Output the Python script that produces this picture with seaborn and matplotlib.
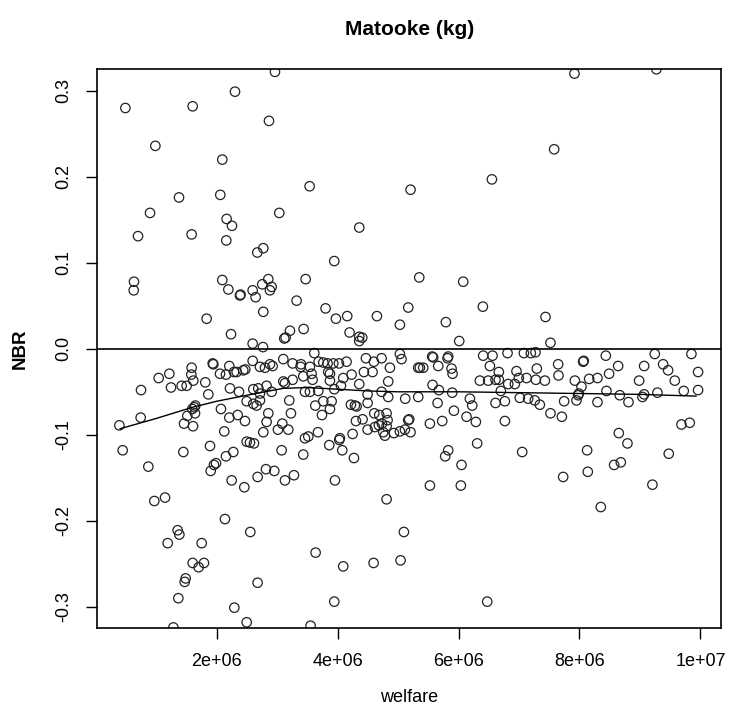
import numpy as np
import pandas as pd
import matplotlib
matplotlib.use("Agg")
import matplotlib.pyplot as plt
from matplotlib.ticker import FixedLocator, FixedFormatter
import seaborn as sns

# ---------------- data (welfare in millions, NBR) ----------------
# points above the zero line
welfare_pos = [2.964, 2.303, 0.490, 1.603, 2.865, 0.986, 2.093, 3.537, 5.206, 1.377,
               2.060, 0.898, 3.035, 2.165, 2.253, 4.358, 0.699, 1.586, 2.159, 2.771,
               2.672, 3.945, 0.633, 0.628, 2.093, 2.854, 3.471, 5.350, 2.193, 2.754,
               2.909, 2.881, 2.385, 2.395, 2.595, 2.644, 3.322, 1.834, 2.771, 3.801,
               3.972, 4.159, 4.650, 5.168, 5.030, 2.237, 3.212, 3.140, 3.118, 3.438,
               4.198, 4.358, 4.407, 4.358, 2.595, 2.766,
               7.917, 9.272, 7.581, 6.551, 6.077, 6.402, 5.790, 7.438, 6.011, 7.520]
nbr_pos = [0.322, 0.299, 0.280, 0.282, 0.265, 0.236, 0.220, 0.189, 0.185, 0.176,
           0.179, 0.158, 0.158, 0.151, 0.143, 0.141, 0.131, 0.133, 0.126, 0.117,
           0.112, 0.102, 0.078, 0.068, 0.080, 0.081, 0.081, 0.083, 0.069, 0.075,
           0.072, 0.068, 0.062, 0.063, 0.068, 0.060, 0.056, 0.035, 0.043, 0.047,
           0.035, 0.038, 0.038, 0.048, 0.028, 0.017, 0.021, 0.013, 0.012, 0.023,
           0.019, 0.014, 0.013, 0.009, 0.006, 0.002,
           0.320, 0.325, 0.232, 0.197, 0.078, 0.049, 0.031, 0.037, 0.009, 0.007]

# points below the zero line, lower welfare
welfare_neg_a = [5.030, 5.057, 3.614, 1.934, 1.945, 2.595, 3.102, 4.468, 4.600, 4.727,
                 1.586, 1.581, 2.209, 2.881, 2.925, 2.799, 2.716, 3.256, 3.394, 3.388,
                 3.542, 3.686, 3.763, 3.834, 3.928, 4.022, 4.148, 4.865, 5.333, 1.217,
                 1.041, 2.055, 2.154, 2.286, 2.330, 2.440, 2.473, 3.432, 3.570, 3.586,
                 3.845, 3.873, 4.231, 4.435, 4.578, 1.614, 1.245, 1.421, 1.504, 1.812,
                 0.749, 1.862, 2.220, 2.369, 2.606, 2.688, 2.826, 2.909, 2.716, 3.102,
                 3.129, 3.256, 3.460, 3.542, 3.873, 4.093, 4.055, 4.358, 3.680, 3.945,
                 4.837, 4.727, 4.496, 4.837, 5.118, 5.333, 2.496, 2.606, 2.661, 2.716]
nbr_neg_a = [-0.006, -0.012, -0.005, -0.017, -0.018, -0.014, -0.012, -0.011, -0.015, -0.011,
             -0.022, -0.030, -0.020, -0.018, -0.020, -0.022, -0.021, -0.017, -0.018, -0.021,
             -0.021, -0.015, -0.016, -0.017, -0.017, -0.017, -0.015, -0.022, -0.022, -0.029,
             -0.034, -0.029, -0.030, -0.027, -0.027, -0.025, -0.024, -0.032, -0.029, -0.036,
             -0.027, -0.029, -0.030, -0.027, -0.027, -0.037, -0.045, -0.043, -0.043, -0.039,
             -0.048, -0.053, -0.046, -0.050, -0.047, -0.046, -0.043, -0.050, -0.052, -0.038,
             -0.040, -0.036, -0.050, -0.050, -0.037, -0.034, -0.043, -0.041, -0.049, -0.047,
             -0.038, -0.050, -0.053, -0.056, -0.058, -0.056, -0.061, -0.064, -0.066, -0.060]

welfare_neg_b = [3.201, 3.631, 3.763, 3.901, 3.873, 3.741, 4.220, 4.286, 4.314, 4.496,
                 1.647, 1.631, 1.597, 1.642, 1.515, 1.460, 1.609, 0.743, 0.391, 2.071,
                 2.209, 2.347, 2.468, 2.854, 2.826, 3.228, 3.085, 3.013, 3.184, 2.771,
                 2.126, 4.606, 4.688, 4.810, 4.683, 4.733, 4.810, 4.826, 4.755, 4.782,
                 4.931, 5.030, 5.113, 5.184, 5.206, 4.303, 4.413, 4.496, 4.617, 5.168,
                 3.675, 3.460, 3.515, 4.038, 4.027, 3.862, 4.248, 2.496, 2.551, 2.617]
nbr_neg_b = [-0.060, -0.066, -0.061, -0.061, -0.070, -0.077, -0.065, -0.066, -0.067, -0.063,
             -0.066, -0.068, -0.070, -0.075, -0.078, -0.087, -0.090, -0.080, -0.089, -0.070,
             -0.080, -0.077, -0.084, -0.075, -0.085, -0.075, -0.087, -0.094, -0.094, -0.097,
             -0.096, -0.075, -0.077, -0.075, -0.089, -0.087, -0.090, -0.083, -0.097, -0.101,
             -0.098, -0.096, -0.094, -0.082, -0.097, -0.084, -0.082, -0.094, -0.091, -0.083,
             -0.097, -0.104, -0.102, -0.104, -0.106, -0.112, -0.099, -0.108, -0.109, -0.110]

welfare_neg_c = [0.446, 1.449, 1.890, 3.074, 3.432, 2.154, 2.275, 4.077, 4.270, 0.870,
                 1.989, 1.956, 1.901, 2.248, 2.457, 2.677, 2.815, 2.953, 3.129, 3.278,
                 3.956, 0.969, 1.146, 4.810, 2.137, 2.556, 5.096, 1.355, 1.383, 1.190,
                 1.752, 1.603, 1.702, 1.790, 3.636, 4.093, 4.595, 5.041, 1.487, 1.471,
                 2.677, 1.366, 2.292, 3.945, 2.496, 1.284, 3.553]
nbr_neg_c = [-0.118, -0.120, -0.113, -0.118, -0.123, -0.125, -0.120, -0.118, -0.127, -0.137,
             -0.133, -0.135, -0.142, -0.153, -0.161, -0.149, -0.140, -0.142, -0.153, -0.147,
             -0.153, -0.177, -0.173, -0.175, -0.198, -0.213, -0.213, -0.211, -0.216, -0.226,
             -0.226, -0.249, -0.254, -0.249, -0.237, -0.253, -0.249, -0.246, -0.267, -0.271,
             -0.272, -0.290, -0.301, -0.294, -0.318, -0.324, -0.322]

# points below the zero line, higher welfare
welfare_neg_d = [5.564, 5.829, 5.581, 5.818, 5.361, 5.416, 5.664, 5.884, 5.901, 6.407,
                 6.562, 6.810, 7.080, 7.195, 7.272, 6.518, 6.666, 6.958, 7.294, 7.647,
                 7.653, 6.352, 6.490, 6.611, 6.666, 6.821, 6.931, 6.997, 7.124, 7.278,
                 7.427, 8.060, 8.070, 8.435, 8.639, 8.490, 9.245, 9.383, 9.465, 9.851,
                 9.069, 8.986, 9.576, 9.961, 7.923, 8.033, 8.160, 8.297, 5.570, 5.675,
                 5.895, 5.653, 5.923, 6.187, 6.226, 6.132, 6.286, 5.526, 5.730, 6.699]
nbr_neg_d = [-0.009, -0.009, -0.010, -0.011, -0.022, -0.022, -0.020, -0.023, -0.029, -0.008,
             -0.008, -0.005, -0.005, -0.005, -0.004, -0.020, -0.027, -0.026, -0.023, -0.018,
             -0.031, -0.037, -0.037, -0.036, -0.036, -0.041, -0.041, -0.034, -0.034, -0.036,
             -0.037, -0.015, -0.014, -0.008, -0.020, -0.029, -0.006, -0.018, -0.025, -0.006,
             -0.020, -0.037, -0.037, -0.027, -0.037, -0.044, -0.035, -0.034, -0.042, -0.048,
             -0.051, -0.063, -0.072, -0.058, -0.066, -0.079, -0.085, -0.087, -0.084, -0.049]

welfare_neg_e = [6.611, 6.766, 6.766, 7.013, 7.151, 7.261, 7.344, 7.520, 7.708, 7.746,
                 7.989, 7.978, 7.950, 8.446, 8.666, 8.810, 8.297, 9.041, 9.069, 9.289,
                 9.724, 9.961, 9.686, 9.823, 6.308, 5.829, 5.779, 6.049, 5.526, 6.038,
                 7.052, 7.730, 8.126, 8.137, 8.650, 8.793, 8.573, 8.683, 8.352, 9.206,
                 9.476, 6.474]
nbr_neg_e = [-0.063, -0.061, -0.084, -0.057, -0.058, -0.060, -0.065, -0.075, -0.079, -0.061,
             -0.052, -0.054, -0.060, -0.049, -0.054, -0.062, -0.062, -0.056, -0.053, -0.051,
             -0.049, -0.048, -0.088, -0.086, -0.110, -0.118, -0.125, -0.135, -0.159, -0.159,
             -0.120, -0.149, -0.118, -0.143, -0.098, -0.110, -0.135, -0.132, -0.184, -0.158,
             -0.122, -0.294]

# smoothed (lowess) curve
curve_welfare = [0.40, 1.0, 1.6, 2.0, 2.5, 3.1, 3.5, 4.0, 4.5, 5.0, 6.0, 7.0, 8.0, 9.0, 9.93]
curve_nbr = [-0.093, -0.081, -0.068, -0.061, -0.054, -0.046, -0.045, -0.047, -0.049,
             -0.050, -0.050, -0.051, -0.052, -0.053, -0.055]

x_ticks = [2e6, 4e6, 6e6, 8e6, 1e7]
x_tick_labels = ["2e+06", "4e+06", "6e+06", "8e+06", "1e+07"]
y_ticks = [-0.3, -0.2, -0.1, 0.0, 0.1, 0.2, 0.3]
y_tick_labels = ["-0.3", "-0.2", "-0.1", "0.0", "0.1", "0.2", "0.3"]

# ---------------- build frame ----------------
w_all = welfare_pos + welfare_neg_a + welfare_neg_b + welfare_neg_c + welfare_neg_d + welfare_neg_e
n_all = nbr_pos + nbr_neg_a + nbr_neg_b + nbr_neg_c + nbr_neg_d + nbr_neg_e
df = pd.DataFrame({"welfare": np.array(w_all) * 1e6, "NBR": n_all})
curve = pd.DataFrame({"welfare": np.array(curve_welfare) * 1e6, "NBR": curve_nbr})

# ---------------- plot ----------------
sns.set_theme(style="white")
plt.rcParams["font.family"] = ["Liberation Sans", "DejaVu Sans"]

W, H = 731, 711
fig = plt.figure(figsize=(W / 100, H / 100), dpi=100)
left, right, top, bottom = 97.3, 721.0, 69.3, 628.3
ax = fig.add_axes([left / W, 1 - bottom / H, (right - left) / W, (bottom - top) / H])

sns.scatterplot(data=df, x="welfare", y="NBR", ax=ax, marker="o", s=46,
                facecolor="none", edgecolor="#222222", linewidth=0.9, legend=False)
ax.axhline(0, color="black", lw=1.2, zorder=1)
sns.lineplot(data=curve, x="welfare", y="NBR", ax=ax, color="black", lw=1.0,
             sort=False, legend=False)

ax.set_xlim(0.026e6, 10.34e6)
ax.set_ylim(-0.325, 0.325)

ax.xaxis.set_major_locator(FixedLocator(x_ticks))
ax.xaxis.set_major_formatter(FixedFormatter(x_tick_labels))
ax.yaxis.set_major_locator(FixedLocator(y_ticks))
ax.yaxis.set_major_formatter(FixedFormatter(y_tick_labels))

ax.tick_params(axis="both", which="major", direction="out", length=8, width=1.0,
               color="black", labelsize=13, labelcolor="black", pad=10,
               bottom=True, left=True, top=False, right=False)
ax.tick_params(axis="y", labelrotation=90)
for lab in ax.get_yticklabels():
    lab.set_va("center")

for sp in ax.spines.values():
    sp.set_color("black")
    sp.set_linewidth(1.2)
    sp.set_visible(True)

ax.set_xlabel("welfare", fontsize=13, color="black", va="center")
ax.xaxis.set_label_coords(0.5, (bottom - 698) / (bottom - top))
ax.set_ylabel("NBR", fontsize=13.5, fontweight="bold", color="black", va="center", ha="center")
ax.yaxis.set_label_coords((20.7 - left) / (right - left), 0.5)
ax.set_title("Matooke (kg)", fontsize=15, fontweight="bold", color="black",
             y=1 + (top - 30) / (bottom - top), pad=0, va="center")

fig.savefig("out.png", dpi=100, facecolor="white")
